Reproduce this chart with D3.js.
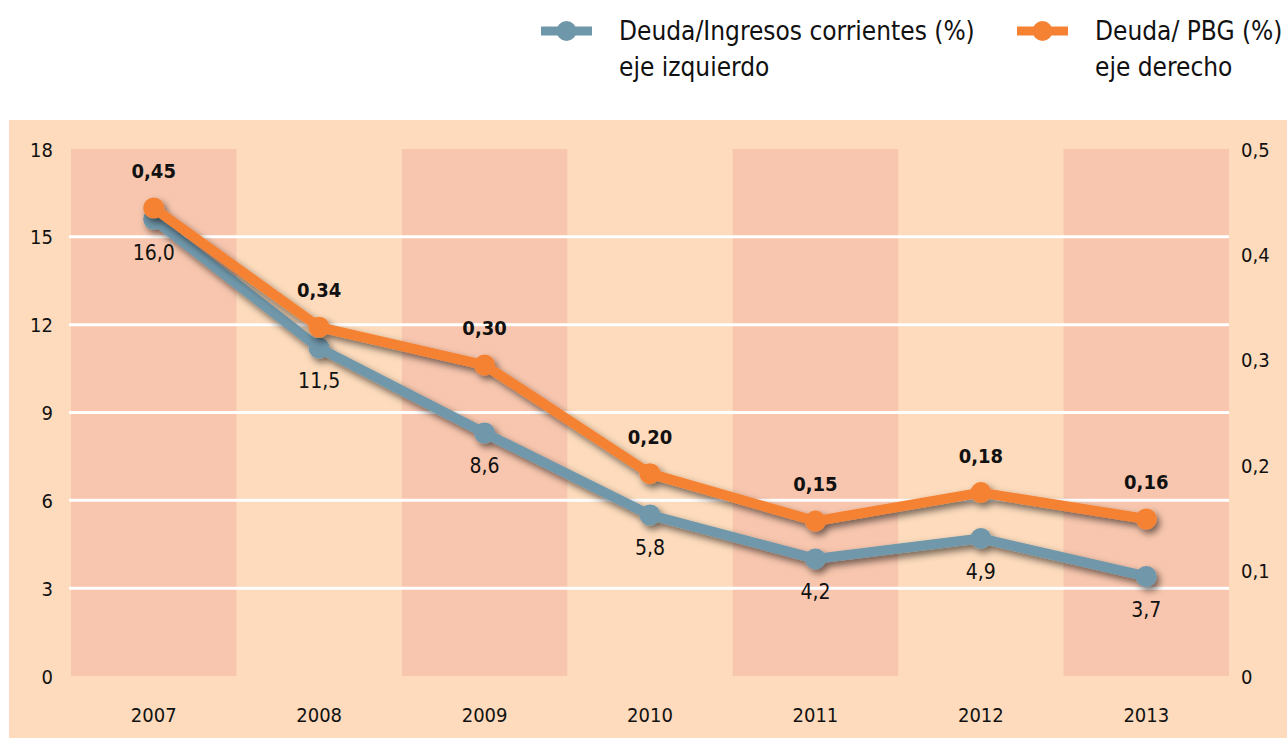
<!DOCTYPE html>
<html>
<head>
<meta charset="utf-8">
<script src="https://cdn.jsdelivr.net/npm/d3@7"></script>
<style>
  body { margin: 0; background: #fff; }
  text { font-family: "DejaVu Sans Condensed", "Liberation Sans Narrow", sans-serif; fill: #111; }
</style>
</head>
<body>
<div id="chart"></div>
<script>
// 資料
var years = ['2007', '2008', '2009', '2010', '2011', '2012', '2013'];
var deudaIngresos = [15.6, 11.2, 8.3, 5.5, 4.0, 4.7, 3.4];      // eje izquierdo
var deudaIngresosLabels = ['16,0', '11,5', '8,6', '5,8', '4,2', '4,9', '3,7'];
var deudaPbg = [0.444, 0.331, 0.295, 0.192, 0.147, 0.174, 0.149]; // eje derecho
var deudaPbgLabels = ['0,45', '0,34', '0,30', '0,20', '0,15', '0,18', '0,16'];
var leftTicks = [0, 3, 6, 9, 12, 15, 18];
var rightTicks = [0, 0.1, 0.2, 0.3, 0.4, 0.5];

const width = 1287, height = 738;
const margin = {top: 149, right: 58, bottom: 62, left: 71};
const blue = '#6f97aa', orange = '#f58233';

var svg = d3.select('#chart').append('svg')
  .attr('width', width)
  .attr('height', height);

// 陰影
var defs = svg.append('defs');
var filter = defs.append('filter').attr('id', 'shadow')
  .attr('x', '-20%').attr('y', '-20%').attr('width', '140%').attr('height', '140%');
filter.append('feDropShadow')
  .attr('dx', 3).attr('dy', 4).attr('stdDeviation', 3.5)
  .attr('flood-color', '#000').attr('flood-opacity', 0.55);

// 背景
svg.append('rect')
  .attr('x', 9).attr('y', 120)
  .attr('width', width - 9).attr('height', height - 120)
  .attr('fill', '#fddbbc');

var x = d3.scaleBand()
  .domain(years)
  .range([margin.left, width - margin.right]);
var yLeft = d3.scaleLinear()
  .domain([0, 18])
  .range([height - margin.bottom, margin.top]);
var yRight = d3.scaleLinear()
  .domain([0, 0.5])
  .range([height - margin.bottom, margin.top]);

// 條紋
svg.selectAll('rect.stripe')
  .data(years.filter((d, i) => i % 2 == 0))
  .enter()
  .append('rect')
  .attr('class', 'stripe')
  .attr('x', d => x(d))
  .attr('y', yLeft(18))
  .attr('width', x.bandwidth())
  .attr('height', yLeft(0) - yLeft(18))
  .attr('fill', '#f8c6ae');

// 格線
svg.selectAll('line.grid')
  .data(leftTicks.filter(d => d > 0 && d < 18))
  .enter()
  .append('line')
  .attr('class', 'grid')
  .attr('x1', margin.left - 2)
  .attr('x2', width - margin.right)
  .attr('y1', d => yLeft(d))
  .attr('y2', d => yLeft(d))
  .attr('stroke', '#fff')
  .attr('stroke-width', 3);

// 軸
var fmt = d => String(d).replace('.', ',');
svg.append('g')
  .attr('transform', `translate(${margin.left - 15},0)`)
  .call(d3.axisLeft(yLeft).tickValues(leftTicks).tickSize(0).tickFormat(fmt))
  .call(g => g.select('.domain').remove())
  .selectAll('text').style('font-size', '20px').attr('dy', '0.35em');
svg.append('g')
  .attr('transform', `translate(${width - margin.right + 9},0)`)
  .call(d3.axisRight(yRight).tickValues(rightTicks).tickSize(0).tickFormat(fmt))
  .call(g => g.select('.domain').remove())
  .selectAll('text').style('font-size', '20px').attr('dy', '0.35em');
svg.append('g')
  .attr('transform', `translate(0,${height - 23})`)
  .call(d3.axisBottom(x).tickSize(0))
  .call(g => g.select('.domain').remove())
  .selectAll('text').style('font-size', '20px').attr('dy', '0.35em').attr('y', 0);

// 線
var cx = d => x(d) + x.bandwidth() / 2;
function drawSeries(values, scale, color) {
  var g = svg.append('g').attr('filter', 'url(#shadow)');
  g.append('path')
    .datum(values)
    .attr('fill', 'none')
    .attr('stroke', color)
    .attr('stroke-width', 10)
    .attr('stroke-linejoin', 'round')
    .attr('d', d3.line().x((d, i) => cx(years[i])).y(d => scale(d)));
  g.selectAll('circle')
    .data(values)
    .enter()
    .append('circle')
    .attr('cx', (d, i) => cx(years[i]))
    .attr('cy', d => scale(d))
    .attr('r', 10.5)
    .attr('fill', color);
}
drawSeries(deudaIngresos, yLeft, blue);
drawSeries(deudaPbg, yRight, orange);

// 標籤
svg.selectAll('text.blueLabel')
  .data(deudaIngresos)
  .enter()
  .append('text')
  .attr('class', 'blueLabel')
  .attr('x', (d, i) => cx(years[i]))
  .attr('y', d => yLeft(d) + 33)
  .attr('dy', '0.35em')
  .attr('text-anchor', 'middle')
  .style('font-size', '21px')
  .text((d, i) => deudaIngresosLabels[i]);
svg.selectAll('text.orangeLabel')
  .data(deudaPbg)
  .enter()
  .append('text')
  .attr('class', 'orangeLabel')
  .attr('x', (d, i) => cx(years[i]))
  .attr('y', d => yRight(d) - 37)
  .attr('dy', '0.35em')
  .attr('text-anchor', 'middle')
  .style('font-size', '20px')
  .style('font-weight', 'bold')
  .text((d, i) => deudaPbgLabels[i]);

// 圖例
var legend = [
  {x: 541, color: blue, lines: ['Deuda/Ingresos corrientes (%)', 'eje izquierdo']},
  {x: 1017, color: orange, lines: ['Deuda/ PBG (%)', 'eje derecho']}
];
var lg = svg.selectAll('g.legend')
  .data(legend)
  .enter()
  .append('g')
  .attr('class', 'legend')
  .attr('transform', d => `translate(${d.x},31)`);
lg.append('line')
  .attr('x1', 0).attr('x2', 51)
  .attr('stroke', d => d.color)
  .attr('stroke-width', 9);
lg.append('circle')
  .attr('cx', 25.5).attr('r', 10)
  .attr('fill', d => d.color);
lg.append('text')
  .attr('x', 78)
  .attr('y', 0)
  .attr('dy', '0.35em')
  .style('font-size', '26px')
  .text(d => d.lines[0]);
lg.append('text')
  .attr('x', 78)
  .attr('y', 36)
  .attr('dy', '0.35em')
  .style('font-size', '26px')
  .text(d => d.lines[1]);
</script>
</body>
</html>
